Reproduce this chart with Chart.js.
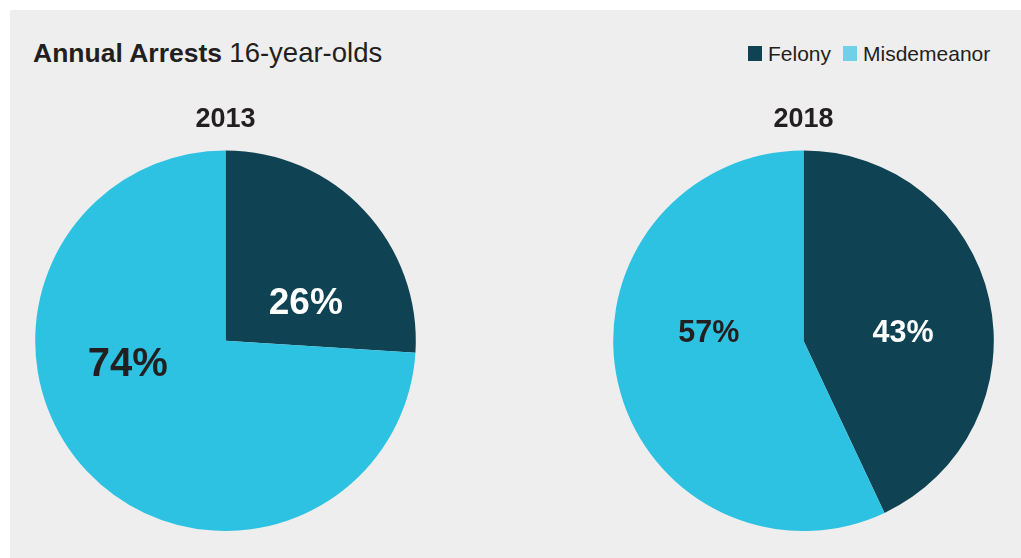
<!DOCTYPE html>
<html>
<head>
<meta charset="utf-8">
<script src="https://cdn.jsdelivr.net/npm/chart.js@4"></script>
<style>
  html, body { margin: 0; padding: 0; background: #fff; }
  body { width: 1021px; height: 558px; position: relative; overflow: hidden;
         font-family: "Liberation Sans", Arial, Helvetica, sans-serif; color: #231f20; }
  #panel { position: absolute; left: 10px; top: 10px; width: 1011px; height: 548px; background: #eeeeee; }
  #title { position: absolute; left: 33px; top: 39px; font-size: 26.5px; line-height: 1; white-space: nowrap; }
  #title b { font-weight: bold; }
  #title span { font-size: 27.5px; }
  #legend { position: absolute; left: 748px; top: 43px; font-size: 21px; line-height: 1; white-space: nowrap; display: flex; }
  #legend .item { display: flex; align-items: flex-start; margin-right: 12px; }
  #legend .box { width: 14px; height: 15px; margin-top: 3px; margin-right: 6px; }
  .pie { position: absolute; }
</style>
</head>
<body>
<div id="panel"></div>
<div id="title"><b>Annual Arrests</b> <span>16-year-olds</span></div>
<div id="legend"></div>
<div class="pie" style="left:25px; top:95px; width:401px; height:436px;"><canvas id="pie2013"></canvas></div>
<div class="pie" style="left:603px; top:95px; width:401px; height:436px;"><canvas id="pie2018"></canvas></div>
<script>
// categories and values
const categories = ['Felony', 'Misdemeanor'];
const years = ['2013', '2018'];
const values2013 = [26, 74];
const values2018 = [43, 57];

const sliceColors = ['#0f4353', '#2ec2e2'];
const legendColors = ['#0f4353', '#6fd1e7'];
const FONT = '"Liberation Sans", Arial, Helvetica, sans-serif';

// legend built from the categories
const legend = document.getElementById('legend');
categories.forEach((c, i) => {
  const item = document.createElement('div');
  item.className = 'item';
  item.innerHTML = `<span class="box" style="background:${legendColors[i]}"></span><span>${c}</span>`;
  legend.appendChild(item);
});

// draws the percent labels inside each slice, placed from the arc geometry
const sliceLabels = {
  id: 'sliceLabels',
  afterDatasetsDraw(chart, args, opts) {
    const ctx = chart.ctx;
    const meta = chart.getDatasetMeta(0);
    const data = chart.data.datasets[0].data;
    meta.data.forEach((arc, i) => {
      const p = arc.getProps(['x', 'y', 'startAngle', 'endAngle', 'outerRadius'], true);
      const place = opts.place[i];
      const a = (p.startAngle + p.endAngle) / 2 + place.shift * Math.PI / 180;
      const r = p.outerRadius * place.dist;
      const size = opts.sizes[i];
      ctx.save();
      ctx.font = `bold ${size}px ${FONT}`;
      ctx.fillStyle = opts.colors[i];
      ctx.textAlign = 'center';
      ctx.textBaseline = 'alphabetic';
      // centre the digits' cap height on the point
      ctx.fillText(data[i] + '%', p.x + Math.cos(a) * r, p.y + Math.sin(a) * r + size * 0.358);
      ctx.restore();
    });
  }
};

function makePie(id, year, values, labelOpts) {
  return new Chart(document.getElementById(id), {
    type: 'pie',
    data: {
      labels: categories,
      datasets: [{
        data: values,
        backgroundColor: sliceColors,
        borderWidth: 0,
        offset: 0,
        hoverOffset: 0
      }]
    },
    options: {
      responsive: true,
      maintainAspectRatio: false,
      animation: false,
      events: [],
      layout: { padding: 0 },
      plugins: {
        legend: { display: false },
        tooltip: { enabled: false },
        title: {
          display: true,
          text: year,
          color: '#231f20',
          font: { family: FONT, size: 27, weight: 'bold', lineHeight: 1.2 },
          padding: { top: 8, bottom: 15 }
        },
        sliceLabels: labelOpts
      }
    },
    plugins: [sliceLabels]
  });
}

makePie('pie2013', years[0], values2013, {
  sizes: [37, 40],
  colors: ['#ffffff', '#231f20'],
  place: [{ shift: 17, dist: 0.47 }, { shift: 31, dist: 0.525 }]
});
makePie('pie2018', years[1], values2018, {
  sizes: [30.5, 30.5],
  colors: ['#ffffff', '#231f20'],
  place: [{ shift: 7, dist: 0.526 }, { shift: 18.3, dist: 0.5 }]
});
</script>
</body>
</html>
